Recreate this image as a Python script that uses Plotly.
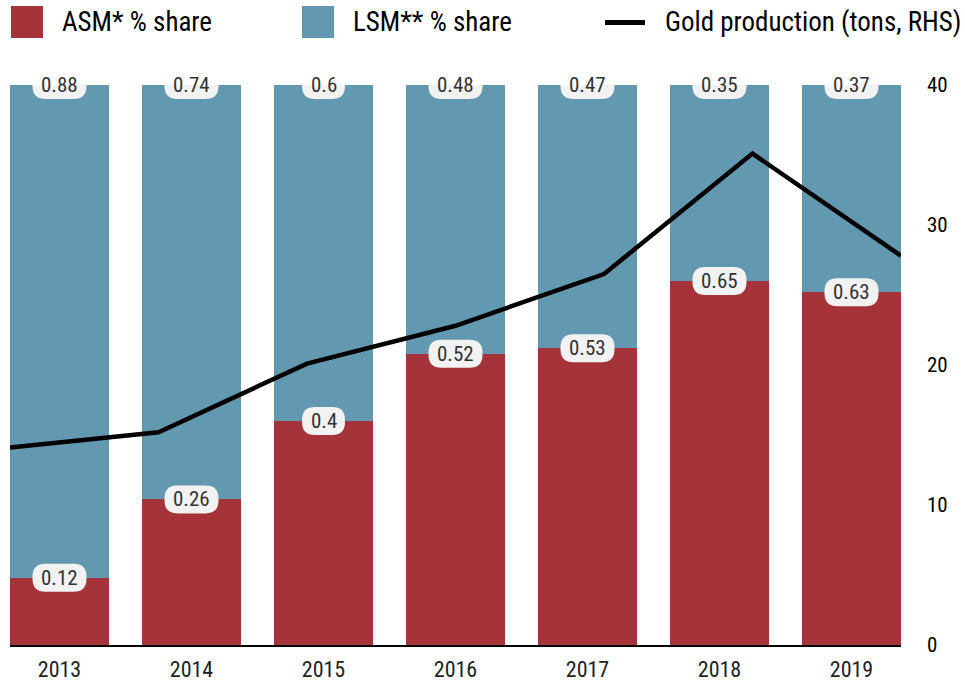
import plotly.graph_objects as go

years = ["2013", "2014", "2015", "2016", "2017", "2018", "2019"]
asm_share = [0.12, 0.26, 0.40, 0.52, 0.53, 0.65, 0.63]
lsm_share = [0.88, 0.74, 0.60, 0.48, 0.47, 0.35, 0.37]
gold_tons = [14.1, 15.2, 20.1, 22.8, 26.5, 35.1, 27.8]
rhs_ticks = [0, 10, 20, 30, 40]

RED = "#a4343a"
BLUE = "#6399b0"
FONT = "Liberation Sans Narrow, Roboto Condensed, Roboto, sans-serif"
idx = list(range(len(years)))

fig = go.Figure()
fig.add_trace(go.Bar(x=idx, y=asm_share, marker=dict(color=RED, line=dict(width=0)),
                     width=0.75, name="ASM* % share", showlegend=False))
fig.add_trace(go.Bar(x=idx, y=lsm_share, marker=dict(color=BLUE, line=dict(width=0)),
                     width=0.75, name="LSM** % share", showlegend=False))
fig.add_trace(go.Scatter(x=idx, y=gold_tons, mode="lines",
                         line=dict(color="black", width=4.5), xaxis="x2", yaxis="y2",
                         name="Gold production (tons, RHS)", showlegend=False))


def pill(w, h, r):
    a, b = w / 2, h / 2
    return (f"M {-a + r},{-b} L {a - r},{-b} Q {a},{-b} {a},{-b + r} L {a},{b - r} "
            f"Q {a},{b} {a - r},{b} L {-a + r},{b} Q {-a},{b} {-a},{b - r} "
            f"L {-a},{-b + r} Q {-a},{-b} {-a + r},{-b} Z")


annotations = []
shapes = []
for i, a, l in zip(idx, asm_share, lsm_share):
    for val, ypos in ((a, a), (l, a + l)):
        txt = f"{val:g}"
        ndig = sum(ch.isdigit() for ch in txt)
        w = 16 + 11 * ndig + 5
        shapes.append(dict(type="path", xref="x", yref="y", xsizemode="pixel",
                           ysizemode="pixel", xanchor=i, yanchor=ypos,
                           path=pill(w, 28, 13), fillcolor="#f2f2f2",
                           line=dict(width=0), layer="above"))
        annotations.append(dict(x=i, y=ypos, xref="x", yref="y", text=txt,
                                showarrow=False,
                                font=dict(family=FONT, size=21, color="#333333"),
                                xanchor="center", yanchor="middle"))

# manual legend
legend_items = [("ASM* % share", RED, "box"), ("LSM** % share", BLUE, "box"),
                ("Gold production (tons, RHS)", "black", "line")]
legend_x = [11, 302, 605]
for (label, col, kind), lx in zip(legend_items, legend_x):
    if kind == "box":
        shapes.append(dict(type="rect", xref="paper", yref="paper",
                           x0=(lx - 10) / 891, x1=(lx + 32 - 10) / 891,
                           y0=(645 - 38) / 560, y1=(645 - 6) / 560,
                           fillcolor=col, line=dict(width=0)))
        tx = lx + 49
    else:
        shapes.append(dict(type="line", xref="paper", yref="paper",
                           x0=(lx - 10) / 891, x1=(lx + 40 - 10) / 891,
                           y0=(645 - 22.5) / 560, y1=(645 - 22.5) / 560,
                           line=dict(color=col, width=5)))
        tx = lx + 58
    annotations.append(dict(x=(tx - 10) / 891, y=(645 - 22) / 560, xref="paper", yref="paper",
                            text=label, showarrow=False, xanchor="left", yanchor="middle",
                            font=dict(family=FONT, size=27, color="black")))

fig.update_layout(
    width=965, height=683,
    margin=dict(l=10, r=64, t=85, b=38),
    plot_bgcolor="white", paper_bgcolor="white",
    barmode="stack", bargap=0,
    font=dict(family=FONT, color="black"),
    xaxis=dict(range=[-0.375, 6.375], showgrid=False, showline=True, linecolor="black",
               linewidth=2, ticks="", tickmode="array", tickvals=idx, ticktext=years,
               tickfont=dict(size=22, color="#222222"), ticklabelstandoff=4, fixedrange=True,
               zeroline=False, automargin=False),
    xaxis2=dict(range=[0, 6], overlaying="x", visible=False),
    yaxis=dict(range=[0, 1], visible=False),
    yaxis2=dict(range=[0, 40], overlaying="y", side="right", anchor="x", showgrid=False,
                tickvals=rhs_ticks, ticks="", zeroline=False, showline=False, automargin=False,
                tickfont=dict(size=21, color="black"), ticklabelstandoff=25),
    annotations=annotations, shapes=shapes,
)

fig.write_html("out.html")
